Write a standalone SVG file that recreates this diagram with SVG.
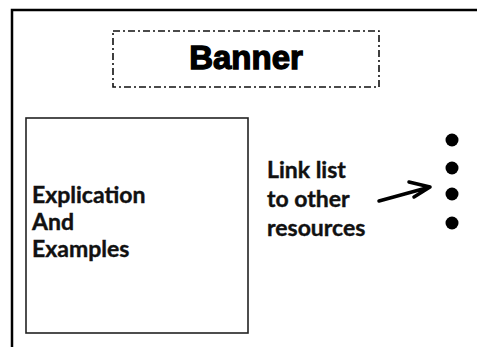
<svg xmlns="http://www.w3.org/2000/svg" width="477" height="347" viewBox="0 0 477 347">
  <defs>
    <style>
      .frame { fill: none; stroke: #000; stroke-width: 2.5; }
      .banner-box { fill: none; stroke: #111; stroke-width: 1.6; stroke-dasharray: 7 3 2 3; }
      .box { fill: #fff; stroke: #222; stroke-width: 1.6; }
      .banner-text { font-family: "Liberation Sans", Arial, sans-serif; font-weight: bold; font-size: 33px; fill: #000; stroke: #000; stroke-width: 1.3; }
      .label { font-family: Lato, "Open Sans", sans-serif; font-weight: bold; font-size: 23px; fill: #111; stroke: #111; stroke-width: 0.4; }
      .bullet { fill: #000; }
      .arrow { fill: none; stroke: #000; stroke-width: 3.5; stroke-linecap: round; stroke-linejoin: round; }
    </style>
  </defs>
  <rect width="477" height="347" fill="#fff"/>

  <!-- page frame, running off the right and bottom edges -->
  <path class="frame" d="M12,360 L12,10 L490,10"/>

  <g id="banner">
    <rect class="banner-box" x="113" y="31" width="266" height="56"/>
    <text class="banner-text" x="246" y="69" text-anchor="middle">Banner</text>
  </g>

  <g id="explication">
    <rect class="box" x="26" y="118" width="222" height="215"/>
    <text class="label" x="32" y="203">Explication</text>
    <text class="label" x="32" y="230">And</text>
    <text class="label" x="32" y="257">Examples</text>
  </g>

  <g id="link-list-label">
    <text class="label" x="267" y="178">Link list</text>
    <text class="label" x="267" y="207">to other</text>
    <text class="label" x="267" y="236">resources</text>
  </g>

  <g id="link-list">
    <circle class="bullet" cx="452" cy="140" r="6.5"/>
    <circle class="bullet" cx="452" cy="168" r="6.5"/>
    <circle class="bullet" cx="452" cy="194" r="6.5"/>
    <circle class="bullet" cx="452" cy="223" r="6.5"/>
  </g>

  <g id="connectors">
    <path class="arrow" d="M379,201 L430,187 M409,182 L430,187 L414,197"/>
  </g>
</svg>
